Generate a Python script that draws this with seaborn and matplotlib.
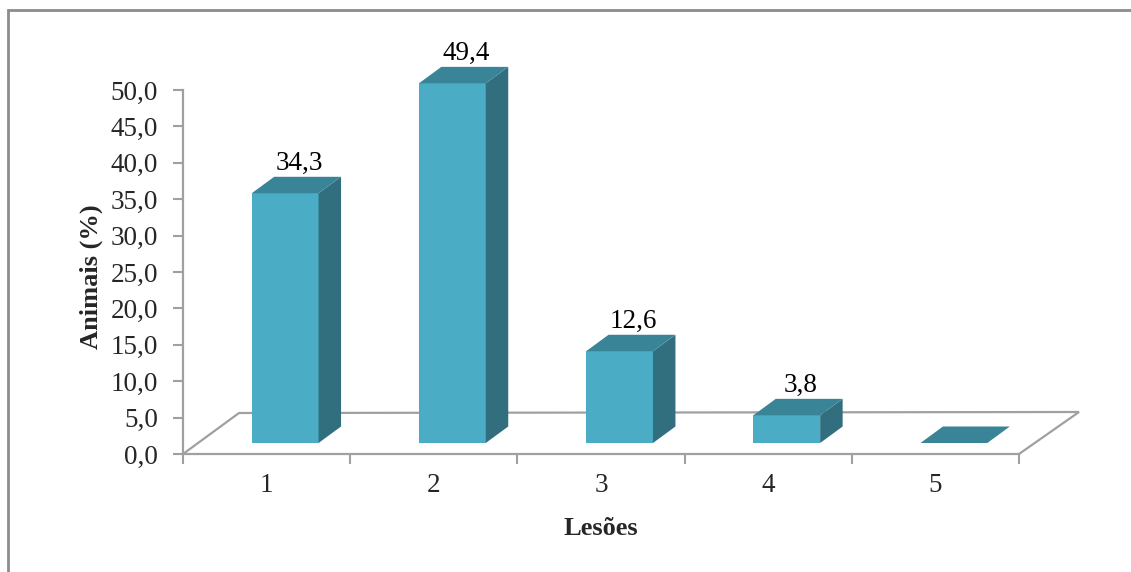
import matplotlib
matplotlib.use("Agg")
import matplotlib.pyplot as plt
from matplotlib.patches import Polygon, Rectangle
from matplotlib.ticker import FixedLocator
import seaborn as sns
import pandas as pd

# ---- data -------------------------------------------------------------
lesoes = ["1", "2", "3", "4", "5"]
animais_pct = [34.3, 49.4, 12.6, 3.8, 0.0]
value_labels = ["34,3", "49,4", "12,6", "3,8", ""]
y_ticks = [0, 5, 10, 15, 20, 25, 30, 35, 40, 45, 50]
y_tick_labels = ["0,0", "5,0", "10,0", "15,0", "20,0", "25,0",
                 "30,0", "35,0", "40,0", "45,0", "50,0"]

# ---- style ------------------------------------------------------------
FRONT = "#4BACC6"
TOP = "#3A8498"
SIDE = "#316E7E"
AXIS_GRAY = "#A0A0A0"
BORDER_GRAY = "#8C8C8C"

sns.set_style("ticks")
plt.rcParams["font.family"] = ["Liberation Serif", "DejaVu Serif"]

W, H = 1131, 572
fig = plt.figure(figsize=(W / 100, H / 100), dpi=100)

# plot area in pixels: left edge, baseline, width, height
AX_L, AX_B, AX_W, AX_H = 183, H - 454, 917, 424
ax = fig.add_axes([AX_L / W, AX_B / H, AX_W / W, AX_H / H])

CAT_PX = 167.2   # pixels per category
UNIT_PX = 7.28   # pixels per percentage point


def dx(px):
    return px / CAT_PX


def dy(px):
    return px / UNIT_PX


df = pd.DataFrame({"Lesões": lesoes, "Animais": animais_pct})
sns.barplot(data=df, x="Lesões", y="Animais", width=0.40, color=FRONT,
            saturation=1, linewidth=0, ax=ax, zorder=3)

# ---- pseudo-3D bars: shift front faces back a little, add top and side ----
front_dx, front_dy = dx(18.5), dy(11)
depth_dx, depth_dy = dx(22.5), dy(16.5)

bars = list(ax.patches)
for bar, lab in zip(bars, value_labels):
    bar.set_x(bar.get_x() + front_dx)
    bar.set_y(front_dy)
    x0 = bar.get_x()
    x1 = x0 + bar.get_width()
    y0 = front_dy
    y1 = y0 + bar.get_height()
    side = Polygon([(x1, y0), (x1 + depth_dx, y0 + depth_dy),
                    (x1 + depth_dx, y1 + depth_dy), (x1, y1)],
                   closed=True, fc=SIDE, ec="none", zorder=3)
    top = Polygon([(x0, y1), (x1, y1), (x1 + depth_dx, y1 + depth_dy),
                   (x0 + depth_dx, y1 + depth_dy)],
                  closed=True, fc=TOP, ec="none", zorder=3)
    ax.add_patch(side)
    ax.add_patch(top)
    if lab:
        ax.text((x0 + x1 + depth_dx) / 2 + dx(3), y1 + depth_dy + dy(7), lab,
                ha="center", va="baseline", fontsize=19.5, color="black",
                zorder=4)

# ---- floor outline ------------------------------------------------------
floor_x = [-0.5, -0.5 + dx(56), 4.5 + dx(60), 4.5]
floor_y = [0, dy(41), dy(42), 0]
ax.plot(floor_x, floor_y, color=AXIS_GRAY, lw=1.6, zorder=1,
        clip_on=False, solid_joinstyle="miter")

# ---- axes ------------------------------------------------------------------
ax.set_xlim(-0.5, -0.5 + AX_W / CAT_PX)
ax.set_ylim(0, AX_H / UNIT_PX)
sns.despine(ax=ax, top=True, right=True)
for side_name in ("left", "bottom"):
    ax.spines[side_name].set_color(AXIS_GRAY)
    ax.spines[side_name].set_linewidth(1.6)
ax.spines["left"].set_bounds(0, 50)
ax.spines["bottom"].set_bounds(-0.5, 4.5)

ax.set_yticks(y_ticks, y_tick_labels)
ax.tick_params(axis="y", direction="out", length=7, width=1.5,
               color=AXIS_GRAY, pad=11, labelsize=19.5)

ax.set_xticks(range(len(lesoes)), lesoes)
ax.xaxis.set_minor_locator(FixedLocator([i - 0.5 for i in range(len(lesoes) + 1)]))
ax.tick_params(axis="x", which="major", length=0, pad=14, labelsize=19.5)
ax.tick_params(axis="x", which="minor", direction="out", length=7, width=1.5,
               color=AXIS_GRAY)

ax.set_xlabel("Lesões", fontsize=19, fontweight="bold", va="baseline")
ax.xaxis.set_label_coords(600.5 / W, 1 - 535 / H, transform=fig.transFigure)
ax.set_ylabel("Animais (%)", fontsize=19, fontweight="bold", va="center")
ax.yaxis.set_label_coords(91.5 / W, 1 - 277 / H, transform=fig.transFigure)

# ---- chart frame ------------------------------------------------------------
fig.add_artist(Rectangle((7.5 / W, -0.05), 1.2, (H - 9.5) / H + 0.05,
                         transform=fig.transFigure, fill=False,
                         ec=BORDER_GRAY, lw=2, clip_on=False))

fig.savefig("out.png", dpi=100)
